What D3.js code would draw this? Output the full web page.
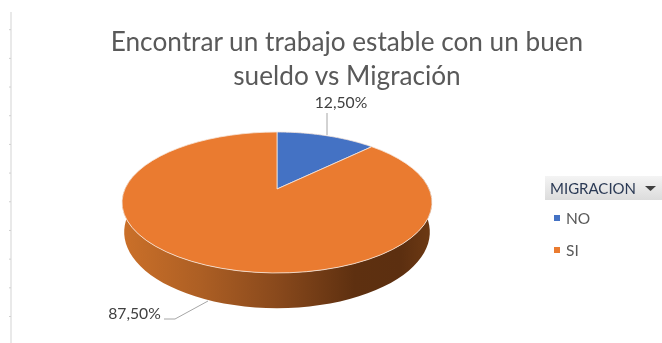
<!DOCTYPE html>
<html>
<head>
<meta charset="utf-8">
<script src="https://cdn.jsdelivr.net/npm/d3@7"></script>
<style>
  html, body { margin: 0; padding: 0; background: #fff; }
  svg { display: block; filter: blur(0.35px); }
  text { font-family: Lato, 'Open Sans', sans-serif; }
</style>
</head>
<body>
<div id="chart"></div>
<script>
const titleLines = ['Encontrar un trabajo estable con un buen', 'sueldo vs Migración'];
const legendTitle = 'MIGRACION';
const categories = ['NO', 'SI'];
const values = [12.5, 87.5];
const valueLabels = ['12,50%', '87,50%'];
const colors = ['#4472c4', '#ea7b30'];
const rulerTicks = [1, 2, 3, 4, 5, 6, 7, 8, 9, 10, 11];

const width = 662, height = 343;
const svg = d3.select('#chart').append('svg').attr('width', width).attr('height', height);

// spreadsheet ruler on the left edge of the screenshot
const rulerScale = d3.scaleLinear().domain([0, 11]).range([0.5, 316]);
const ruler = svg.append('g')
  .attr('transform', 'translate(11,0)')
  .call(d3.axisLeft(rulerScale).tickValues(rulerTicks).tickSize(2).tickFormat(''));
ruler.select('.domain').attr('stroke', '#e2e2e2').attr('stroke-width', 1.5).attr('d', 'M0,12V343');
ruler.selectAll('.tick line').attr('stroke', '#d0d0d0');

// title
svg.append('g').selectAll('text')
  .data(titleLines)
  .join('text')
  .attr('x', 347)
  .attr('y', (d, i) => 51 + i * 34)
  .attr('text-anchor', 'middle')
  .attr('fill', '#595959')
  .style('font-size', '26.2px')
  .text(d => d);

// tilted disc: perspective projection of a unit circle
const persp = 0.1915;
const project = (disc, angle) => {
  const X = Math.sin(angle), Y = Math.cos(angle);
  const w = 1 + persp * Y;
  return [disc.cx + disc.a * X / w, disc.cy - disc.b * Y / w];
};
const topDisc = { cx: 277, cy: 189, a: 152.1, b: 67.9 };
const lowDisc = { cx: 277, cy: 217.5, a: 150, b: 73.3 };

const arcSteps = (a0, a1) => d3.range(0, 61).map(i => a0 + (a1 - a0) * i / 60);
const line = d3.line();

const arcs = d3.pie().sort(null)(values);

// gradient for the side wall
const defs = svg.append('defs');
const grad = defs.append('linearGradient').attr('id', 'wall')
  .attr('gradientUnits', 'userSpaceOnUse')
  .attr('x1', 122).attr('x2', 432).attr('y1', 0).attr('y2', 0);
grad.selectAll('stop')
  .data([[0, '#cb7029'], [0.25, '#ad5f24'], [0.5, '#89491c'], [0.75, '#5e3010'], [0.9, '#5c2f10'], [1, '#6e3a14']])
  .join('stop')
  .attr('offset', d => d[0])
  .attr('stop-color', d => d[1]);

// side wall: front half of the lower disc, back along the rim of the top disc
const sideFrom = Math.PI * 0.5 - 0.19, sideTo = Math.PI * 1.5 + 0.19;
const wallPts = arcSteps(sideFrom, sideTo).map(a => project(lowDisc, a))
  .concat(arcSteps(sideTo, sideFrom).map(a => project(topDisc, a)));
svg.append('path')
  .attr('d', line(wallPts) + 'Z')
  .attr('fill', 'url(#wall)');

// top faces
svg.append('g').selectAll('path')
  .data(arcs)
  .join('path')
  .attr('d', d => {
    const pts = [[topDisc.cx, topDisc.cy]].concat(arcSteps(d.startAngle, d.endAngle).map(a => project(topDisc, a)));
    return line(pts) + 'Z';
  })
  .attr('fill', (d, i) => colors[i])
  .attr('stroke', '#f6e6da')
  .attr('stroke-width', 0.8);

// leader lines
const leaders = [
  [[327, 113], [327, 135]],
  [[164, 319], [175, 319], [208, 301]]
];
svg.append('g').selectAll('path')
  .data(leaders)
  .join('path')
  .attr('d', d => line(d))
  .attr('fill', 'none')
  .attr('stroke', '#a6a6a6')
  .attr('stroke-width', 1);

// value labels
const labelPos = [[341, 108], [134.5, 319]];
svg.append('g').selectAll('text')
  .data(valueLabels)
  .join('text')
  .attr('x', (d, i) => labelPos[i][0])
  .attr('y', (d, i) => labelPos[i][1])
  .attr('text-anchor', 'middle')
  .attr('fill', '#404040')
  .style('font-size', '15.7px')
  .text(d => d);

// legend header
const headGrad = defs.append('linearGradient').attr('id', 'head')
  .attr('x1', 0).attr('x2', 0).attr('y1', 0).attr('y2', 1);
headGrad.append('stop').attr('offset', 0).attr('stop-color', '#f4f4f4');
headGrad.append('stop').attr('offset', 1).attr('stop-color', '#dcdcdc');
svg.append('rect')
  .attr('x', 545).attr('y', 176).attr('width', 117).attr('height', 24)
  .attr('fill', 'url(#head)');
svg.append('text')
  .attr('x', 550).attr('y', 194)
  .attr('fill', '#2b3a55')
  .style('font-size', '15px')
  .text(legendTitle);
svg.append('path')
  .attr('d', 'M645,186h11l-5.5,5Z')
  .attr('fill', '#404040');

// legend items
const legendY = d3.scalePoint().domain(categories).range([218, 250]);
const items = svg.append('g').selectAll('g')
  .data(categories)
  .join('g')
  .attr('transform', d => `translate(0,${legendY(d)})`);
items.append('rect')
  .attr('x', 554).attr('y', -3).attr('width', 6).attr('height', 6)
  .attr('fill', (d, i) => colors[i]);
items.append('text')
  .attr('x', 566).attr('y', 6)
  .attr('fill', '#595959')
  .style('font-size', '15.5px')
  .text(d => d);
</script>
</body>
</html>
